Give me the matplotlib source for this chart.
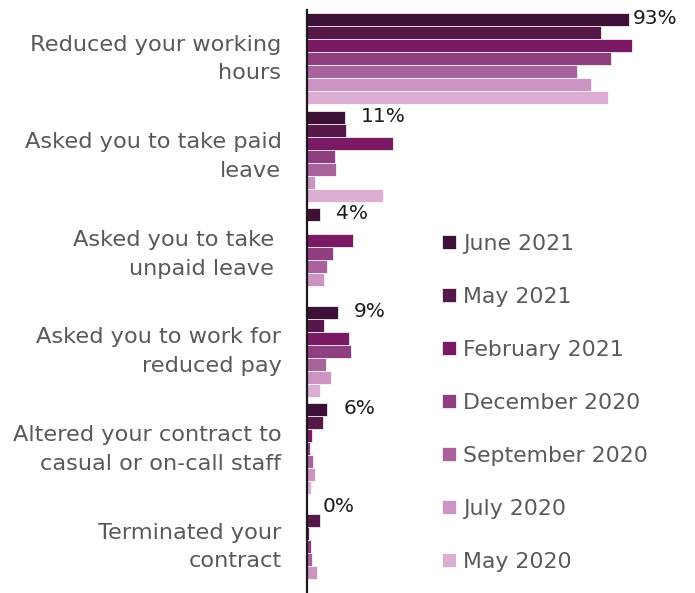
import numpy as np
import matplotlib
matplotlib.use('Agg')
import matplotlib.pyplot as plt
import matplotlib.transforms as mtransforms
from matplotlib.patches import Patch

plt.rcParams['font.family'] = 'DejaVu Sans'

GREY = '#595959'

categories = [
    'Reduced your working\nhours',
    'Asked you to take paid\nleave',
    'Asked you to take \nunpaid leave ',
    'Asked you to work for\nreduced pay',
    'Altered your contract to\ncasual or on-call staff',
    'Terminated your\ncontract',
]

series = ['June 2021', 'May 2021', 'February 2021', 'December 2020',
          'September 2020', 'July 2020', 'May 2020']
colors = ['#3d1038', '#561848', '#7a1a65', '#8f3f80', '#a8649a', '#cc94c2', '#ddaed3']

# values in %, 0 where the reference shows no bar
jun_2021 = [93, 11, 4, 9, 6, 0]
may_2021 = [85, 11.5, 0, 5, 4.8, 4]
feb_2021 = [94, 25, 13.3, 12.4, 1.6, 0.7]
dec_2020 = [88, 8.3, 7.6, 12.7, 1.1, 1.3]
sep_2020 = [78, 8.5, 5.9, 5.5, 2.0, 1.5]
jul_2020 = [82, 2.5, 5.1, 7.2, 2.5, 2.9]
may_2020 = [87, 22, 0, 4.0, 1.4, 0]
values = [jun_2021, may_2021, feb_2021, dec_2020, sep_2020, jul_2020, may_2020]

# labels shown next to June 2021 bars
labels = ['93%', '11%', '4%', '9%', '6%', '0%']

fig = plt.figure(figsize=(6.95, 5.93), dpi=100)
ax = fig.add_axes([306.5 / 695, 0.0, (653 - 306.5) / 695, 1 - 10 / 593])

h = 0.1333
centers = np.arange(len(categories))
for j, (name, vals, c) in enumerate(zip(series, values, colors)):
    ax.barh(centers + (j - 3) * h, vals, height=h, color=c,
            edgecolor='white', linewidth=0.5, label=name)

for i, (v, lab) in enumerate(zip(jun_2021, labels)):
    off = 4 if i == 0 else 16
    ax.annotate(lab, (v, centers[i] - 3 * h), xytext=(off, 1),
                textcoords='offset pixels', va='center', ha='left',
                fontsize=14.5, color='#1a1a1a')

ax.set_xlim(0, 100)
ax.set_ylim(5.476, -0.497)
ax.set_yticks(centers)
ax.set_yticklabels(categories, fontsize=16.2, color=GREY, ha='right',
                   multialignment='right', linespacing=1.55)
ax.tick_params(axis='y', length=0, pad=18)
# nudge the two-line labels up a little so they sit centred on the groups
shift = mtransforms.ScaledTranslation(0, 6 / 100, fig.dpi_scale_trans)
for t in ax.get_yticklabels():
    t.set_transform(t.get_transform() + shift)
ax.set_xticks([])
for s in ['top', 'right', 'bottom']:
    ax.spines[s].set_visible(False)
ax.spines['left'].set_linewidth(1.6)
ax.spines['left'].set_color('#1a1a1a')

handles = [Patch(facecolor=c, edgecolor='white', linewidth=0.5) for c in colors]
leg = fig.legend(handles, series, loc='upper left',
                 bbox_to_anchor=(442 / 695, 1 - 234 / 593),
                 frameon=False, fontsize=15.8, labelspacing=1.5,
                 handlelength=0.62, handleheight=0.62, handletextpad=0.32,
                 borderpad=0, borderaxespad=0)
for t in leg.get_texts():
    t.set_color(GREY)

fig.savefig('out.png', dpi=100)
